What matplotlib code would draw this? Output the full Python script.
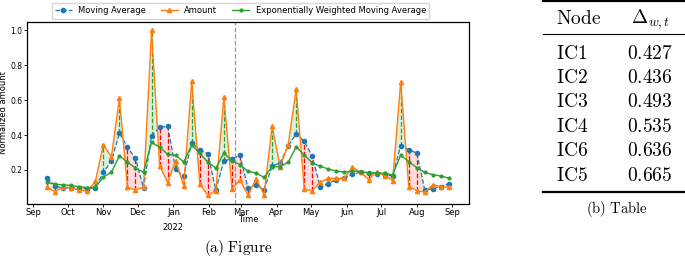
import numpy as np
import pandas as pd
import matplotlib
matplotlib.use("Agg")
import matplotlib.pyplot as plt
import matplotlib.dates as mdates
from matplotlib.lines import Line2D

plt.rcParams['mathtext.fontset'] = 'cm'

# weekly series, Sep 2021 - Aug 2022
dates = pd.date_range('2021-09-13', periods=51, freq='7D')

amount = [0.100, 0.075, 0.104, 0.097, 0.085, 0.079, 0.134, 0.345, 0.275, 0.610,
          0.100, 0.086, 0.101, 1.000, 0.225, 0.128, 0.252, 0.109, 0.707, 0.120,
          0.055, 0.082, 0.618, 0.093, 0.142, 0.055, 0.149, 0.059, 0.450, 0.219,
          0.345, 0.661, 0.088, 0.082, 0.130, 0.152, 0.152, 0.154, 0.215, 0.187,
          0.145, 0.187, 0.168, 0.139, 0.705, 0.105, 0.082, 0.072, 0.116, 0.105,
          0.100]
moving_avg = [0.152, 0.110, 0.094, 0.099, 0.095, 0.093, 0.099, 0.186, 0.250, 0.411,
              0.330, 0.266, 0.096, 0.396, 0.444, 0.450, 0.204, 0.163, 0.354, 0.313,
              0.294, 0.085, 0.252, 0.263, 0.284, 0.095, 0.115, 0.087, 0.222, 0.240,
              0.338, 0.407, 0.364, 0.278, 0.100, 0.122, 0.145, 0.155, 0.174, 0.188,
              0.184, 0.176, 0.172, 0.166, 0.338, 0.316, 0.297, 0.084, 0.093, 0.105,
              0.122]
ewma = [0.130, 0.118, 0.115, 0.111, 0.104, 0.099, 0.100, 0.160, 0.186, 0.281,
        0.245, 0.210, 0.187, 0.358, 0.331, 0.290, 0.283, 0.246, 0.342, 0.295,
        0.245, 0.211, 0.296, 0.254, 0.230, 0.192, 0.183, 0.157, 0.219, 0.219,
        0.245, 0.332, 0.286, 0.240, 0.221, 0.205, 0.194, 0.187, 0.193, 0.191,
        0.183, 0.184, 0.181, 0.172, 0.285, 0.248, 0.213, 0.186, 0.173, 0.165,
        0.153]
event_date = pd.Timestamp('2022-02-24')

nodes = ['IC1', 'IC2', 'IC3', 'IC4', 'IC6', 'IC5']
deltas = ['0.427', '0.436', '0.493', '0.535', '0.636', '0.665']

W, H = 685, 257
fig = plt.figure(figsize=(W / 100, H / 100), dpi=100)
ax = fig.add_axes([27 / W, 1 - 203.5 / H, 442 / W, 181.5 / H])

x = mdates.date2num(dates.to_pydatetime())
a = np.array(amount)
m = np.array(moving_avg)
up = a >= m

ax.fill_between(x, a, m, where=up, interpolate=True, color='tab:green', alpha=0.16, lw=0)
ax.fill_between(x, a, m, where=~up, interpolate=True, color='red', alpha=0.14, lw=0)
ax.vlines(x[up], m[up], a[up], colors='tab:green', linestyles='--', lw=0.9)
ax.vlines(x[~up], a[~up], m[~up], colors='red', linestyles='--', lw=0.9)

ax.plot(x, m, '--o', color='tab:blue', lw=0.9, ms=3, label='Moving Average')
ax.plot(x, a, '-^', color='tab:orange', lw=1.0, ms=3, label='Amount')
ax.plot(x, ewma, '-o', color='tab:green', lw=1.0, ms=2, label='Exponentially Weighted Moving Average')
ax.axvline(mdates.date2num(event_date), color='grey', ls='--', lw=0.9, alpha=0.8)

ax.xaxis.set_major_locator(mdates.MonthLocator())
ax.xaxis.set_major_formatter(mdates.DateFormatter('%b'))
ax.set_yticks([0.2, 0.4, 0.6, 0.8, 1.0])
ax.tick_params(axis='x', labelsize=6, length=2, pad=1, width=0.6)
ax.tick_params(axis='y', labelsize=5.5, length=2, pad=1.5, width=0.6)
for s in ax.spines.values():
    s.set_linewidth(0.9)

# year shown under January
ax.annotate('2022', xy=(mdates.date2num(pd.Timestamp('2022-01-01')), 0),
            xycoords=('data', 'axes fraction'), xytext=(0, -17), textcoords='offset points',
            ha='center', va='center', fontsize=6)

ax.set_xlabel('Time', fontsize=6)
ax.xaxis.set_label_coords(0.5, -0.066)
ax.set_ylabel('Normalized amount', fontsize=6)
ax.yaxis.set_label_coords(-0.042, 0.5)

ax.legend(loc='lower center', bbox_to_anchor=(0.483, 1.005), ncol=3, fontsize=6,
          borderaxespad=0.3, handlelength=2.0, columnspacing=1.8)

fig.text(238 / W, 1 - 248 / H, r'$\mathrm{(a)\ Figure}$', fontsize=11, ha='center', va='center')

# table on the right
def fy(py):
    return 1 - py / H

fig.add_artist(Line2D([543 / W, 1], [fy(1), fy(1)], color='black', lw=1.6, transform=fig.transFigure))
fig.add_artist(Line2D([543 / W, 1], [fy(34.3), fy(34.3)], color='black', lw=0.8, transform=fig.transFigure))
fig.add_artist(Line2D([543 / W, 1], [fy(192.3), fy(192.3)], color='black', lw=1.6, transform=fig.transFigure))

fig.text(556 / W, fy(19), r'$\mathrm{Node}$', fontsize=14, ha='left', va='center')
fig.text(651 / W, fy(19), r'$\Delta_{w,t}$', fontsize=14, ha='center', va='center')
for i, (n, d) in enumerate(zip(nodes, deltas)):
    yy = 53.3 + 24.35 * i
    fig.text(556 / W, fy(yy), r'$\mathrm{%s}$' % n, fontsize=14, ha='left', va='center')
    fig.text(650 / W, fy(yy), r'$%s$' % d, fontsize=14, ha='center', va='center')

fig.text(617 / W, fy(209), r'$\mathrm{(b)\ Table}$', fontsize=10.5, ha='center', va='center')

fig.savefig('out.png', dpi=100)
